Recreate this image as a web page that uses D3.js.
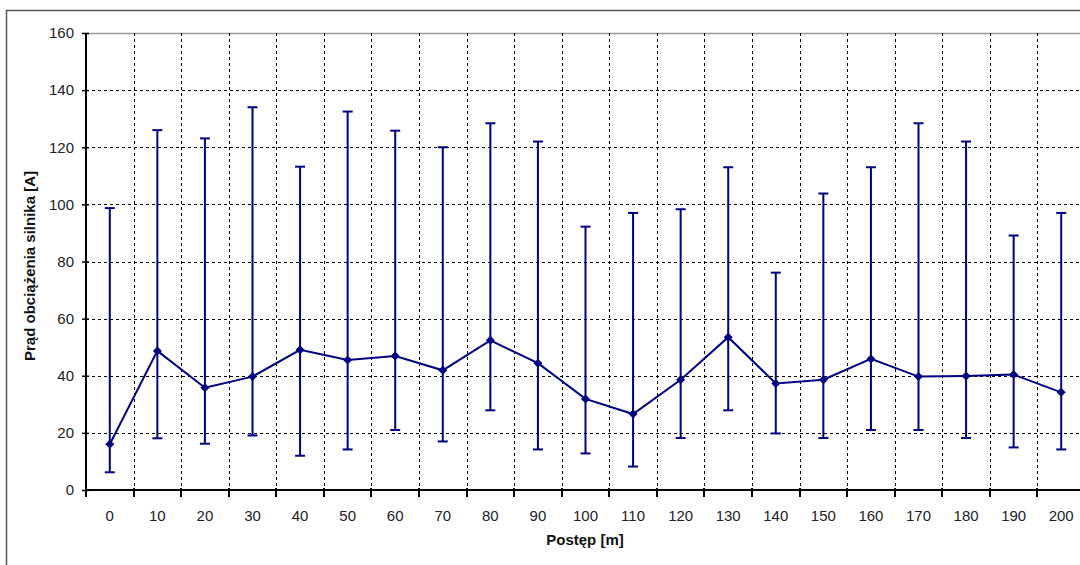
<!DOCTYPE html>
<html>
<head>
<meta charset="utf-8">
<script src="https://cdn.jsdelivr.net/npm/d3@7/dist/d3.min.js"></script>
<style>
  body { margin: 0; background: #fff; }
  svg { display: block; font-family: "Liberation Sans", Arial, sans-serif; }
</style>
</head>
<body>
<div id="chart"></div>
<script>
// dane: postęp [m], średni prąd oraz min / max
const categories = ["0", "10", "20", "30", "40", "50", "60", "70", "80", "90", "100",
                    "110", "120", "130", "140", "150", "160", "170", "180", "190", "200"];
const meanValues = [16.0, 48.7, 35.8, 39.7, 49.1, 45.5, 46.9, 41.9, 52.4, 44.4, 31.9,
                    26.6, 38.6, 53.5, 37.3, 38.6, 45.9, 39.7, 39.9, 40.4, 34.2];
const maxValues  = [98.7, 126.0, 123.1, 134.0, 113.2, 132.5, 125.8, 120.0, 128.4, 122.0, 92.2,
                    97.0, 98.3, 113.0, 76.1, 103.8, 113.0, 128.4, 122.0, 89.1, 97.0];
const minValues  = [6.2, 18.1, 16.2, 19.1, 12.0, 14.2, 21.0, 17.0, 27.9, 14.2, 12.8,
                    8.2, 18.2, 27.9, 19.8, 18.2, 21.0, 21.0, 18.2, 14.9, 14.2];
const yTicks = [0, 20, 40, 60, 80, 100, 120, 140, 160];

const W = 1080, H = 565;
const margin = { left: 86, top: 33, right: -5, bottom: 75 };
const plotW = W - margin.left - margin.right;
const plotH = H - margin.top - margin.bottom;
const navy = "#000080";

const data = categories.map((c, i) => ({ cat: c, mean: meanValues[i], hi: maxValues[i], lo: minValues[i] }));

const svg = d3.select("#chart").append("svg")
  .attr("width", W)
  .attr("height", H);

// ramka wykresu
svg.append("rect")
  .attr("x", 6.5).attr("y", 10.5)
  .attr("width", W + 20).attr("height", H + 20)
  .attr("fill", "none")
  .attr("stroke", "#555")
  .attr("stroke-width", 1.5);

const g = svg.append("g").attr("transform", `translate(${margin.left},${margin.top})`);

const x = d3.scaleBand().domain(categories).range([0, plotW]).padding(0);
const y = d3.scaleLinear().domain([0, 160]).range([plotH, 0]);

// górna krawędź obszaru wykresu
g.append("line")
  .attr("x1", 0).attr("x2", plotW)
  .attr("y1", 0.5).attr("y2", 0.5)
  .attr("stroke", "#999").attr("stroke-width", 1.5);

// siatka pozioma
g.selectAll(".hgrid")
  .data(yTicks.filter(t => t > 0 && t < 160))
  .enter().append("line")
  .attr("class", "hgrid")
  .attr("x1", 0).attr("x2", plotW)
  .attr("y1", d => Math.round(y(d)) + 0.5)
  .attr("y2", d => Math.round(y(d)) + 0.5)
  .attr("stroke", "#000")
  .attr("stroke-dasharray", "3,3");

// siatka pionowa (granice kategorii)
const boundaries = categories.slice(1).map(c => x(c));
g.selectAll(".vgrid")
  .data(boundaries)
  .enter().append("line")
  .attr("class", "vgrid")
  .attr("x1", d => Math.round(d) + 0.5).attr("x2", d => Math.round(d) + 0.5)
  .attr("y1", 0).attr("y2", plotH)
  .attr("stroke", "#000")
  .attr("stroke-dasharray", "3,3");

// oś Y
const yAxis = g.append("g")
  .call(d3.axisLeft(y).tickValues(yTicks).tickSize(4).tickPadding(8));
yAxis.select(".domain").attr("stroke-width", 2).attr("d", `M0,0V${plotH}`);
yAxis.selectAll(".tick line").attr("x2", -4).attr("x1", 3).attr("stroke-width", 1.5);
yAxis.selectAll(".tick text")
  .attr("font-size", 15)
  .attr("fill", "#222")
  .attr("font-family", "Liberation Sans, Arial, sans-serif");

// oś X
g.append("line")
  .attr("x1", -1).attr("x2", plotW)
  .attr("y1", plotH).attr("y2", plotH)
  .attr("stroke", "#000").attr("stroke-width", 2);
g.selectAll(".xtick")
  .data([0].concat(boundaries))
  .enter().append("line")
  .attr("class", "xtick")
  .attr("x1", d => Math.round(d)).attr("x2", d => Math.round(d))
  .attr("y1", plotH - 2).attr("y2", plotH + 7)
  .attr("stroke", "#000").attr("stroke-width", 2);
g.selectAll(".xlabel")
  .data(categories)
  .enter().append("text")
  .attr("class", "xlabel")
  .attr("x", d => x(d) + x.bandwidth() / 2)
  .attr("y", plotH + 31)
  .attr("text-anchor", "middle")
  .attr("font-size", 15)
  .attr("fill", "#222")
  .text(d => d);

// słupki błędów
const cx = d => x(d.cat) + x.bandwidth() / 2;
const capW = 10;
const bars = g.selectAll(".err").data(data).enter().append("g").attr("class", "err");
bars.append("line")
  .attr("x1", cx).attr("x2", cx)
  .attr("y1", d => y(d.hi)).attr("y2", d => y(d.lo))
  .attr("stroke", navy).attr("stroke-width", 2);
bars.append("line")
  .attr("x1", d => cx(d) - capW / 2).attr("x2", d => cx(d) + capW / 2)
  .attr("y1", d => y(d.hi)).attr("y2", d => y(d.hi))
  .attr("stroke", navy).attr("stroke-width", 2);
bars.append("line")
  .attr("x1", d => cx(d) - capW / 2).attr("x2", d => cx(d) + capW / 2)
  .attr("y1", d => y(d.lo)).attr("y2", d => y(d.lo))
  .attr("stroke", navy).attr("stroke-width", 2);

// linia średnich
const line = d3.line().x(cx).y(d => y(d.mean));
g.append("path")
  .datum(data)
  .attr("d", line)
  .attr("fill", "none")
  .attr("stroke", navy)
  .attr("stroke-width", 2);

// znaczniki (romby)
const r = 4.5;
g.selectAll(".marker")
  .data(data)
  .enter().append("path")
  .attr("class", "marker")
  .attr("d", d => `M${cx(d)},${y(d.mean) - r}L${cx(d) + r},${y(d.mean)}L${cx(d)},${y(d.mean) + r}L${cx(d) - r},${y(d.mean)}Z`)
  .attr("fill", navy);

// tytuły osi
svg.append("text")
  .attr("x", margin.left + 499)
  .attr("y", 545)
  .attr("text-anchor", "middle")
  .attr("font-size", 15)
  .attr("font-weight", "bold")
  .attr("fill", "#111")
  .text("Postęp [m]");

svg.append("text")
  .attr("transform", "translate(35,266) rotate(-90)")
  .attr("text-anchor", "middle")
  .attr("font-size", 15)
  .attr("font-weight", "bold")
  .attr("fill", "#111")
  .text("Prąd obciążenia silnika [A]");
</script>
</body>
</html>
